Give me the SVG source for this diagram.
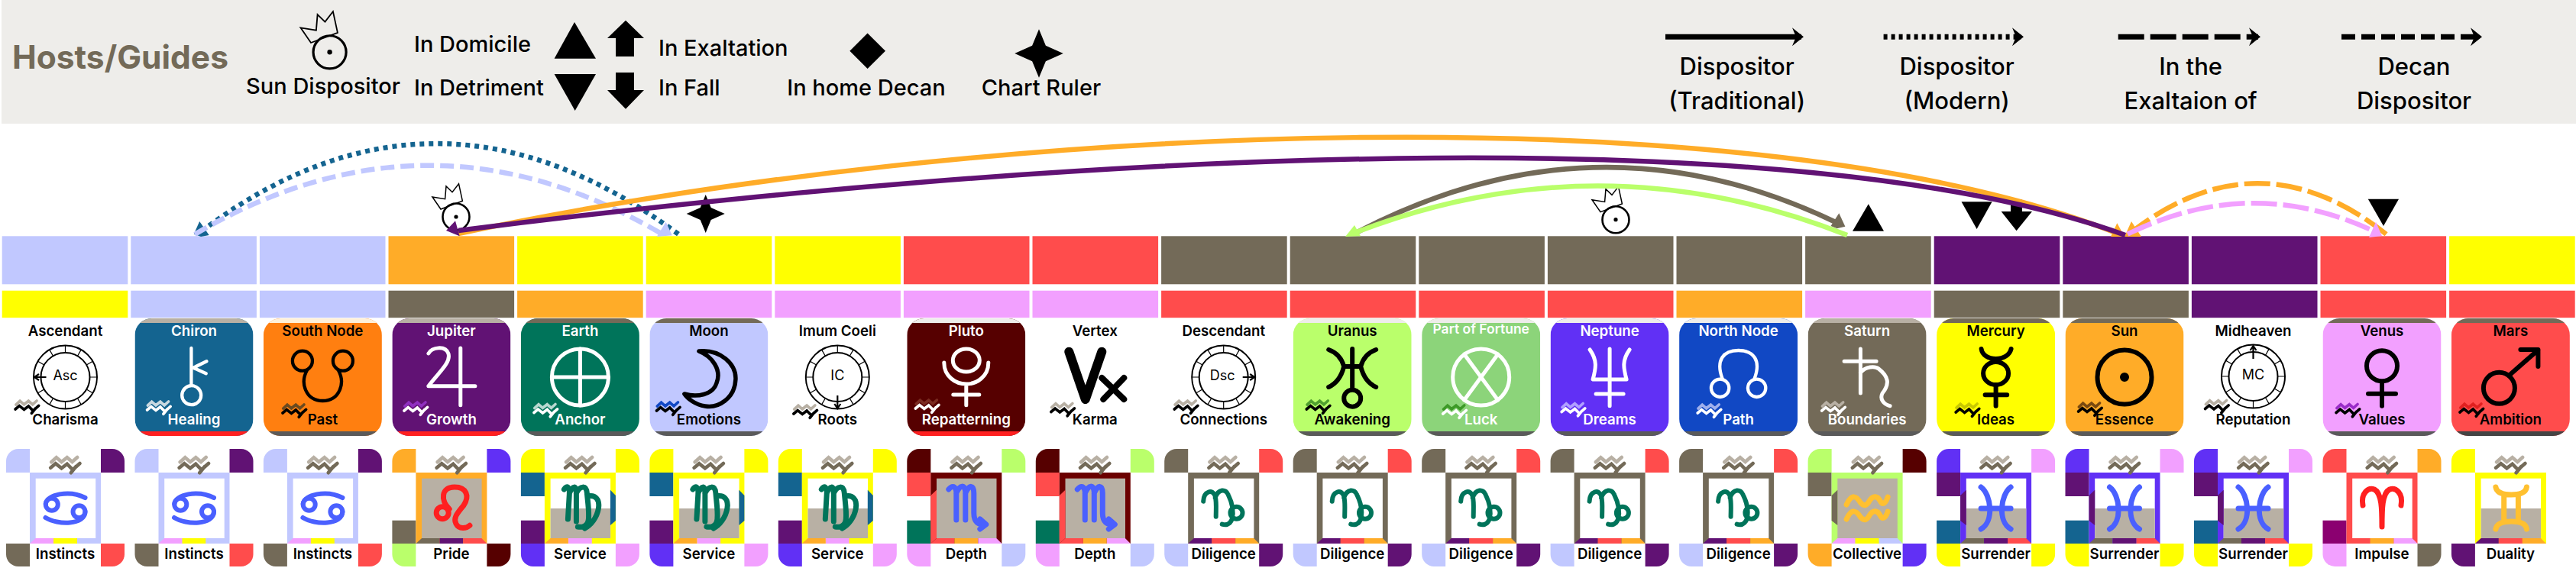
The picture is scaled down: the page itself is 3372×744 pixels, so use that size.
<svg xmlns="http://www.w3.org/2000/svg" width="3372" height="744" viewBox="0 0 3372 744">
<style>
text{font-family:Inter,"Noto Sans","Liberation Sans",sans-serif;font-weight:600;font-size:18.7px;text-anchor:middle;fill:#000}
.w{fill:#fff}
.lg{font-size:29px;font-weight:500}
.lg2{font-size:31px;font-weight:500}
.sm{font-size:18px;font-weight:400}
.l{text-anchor:start}
.peri{fill:#C1C8FF}.org{fill:#FFAC28}.yel{fill:#FFFF00}.red{fill:#FF4C4C}.tau{fill:#736A58}.pur{fill:#611274}.vio{fill:#6130F5}.pnk{fill:#F2A0FF}.lim{fill:#BAFF6B}.mar{fill:#560000}.mar2{fill:#6B0000}.tea{fill:#00745A}.blu{fill:#146490}.cob{fill:#1148C4}.sor{fill:#FF7F10}.grn{fill:#8CD47A}.gry{fill:#B8B0A4}.lgt{fill:#EEEDEA}.dgy{fill:#5A5A5A}.red2{fill:#FF2020}.mag{fill:#8B0070}.wht{fill:#fff}
.gl{fill:none;stroke-width:5;stroke-linecap:round;stroke-linejoin:round}
.gs{fill:none;stroke-width:7;stroke-linecap:round;stroke-linejoin:round}
.wv{fill:none;stroke-width:4.6;stroke-linecap:round;stroke-linejoin:miter}
.arc{fill:none;stroke-width:6.5}
.d18{stroke-dasharray:18 8}.d34{stroke-dasharray:34 8}.d6{stroke-dasharray:6 6}
</style>
<defs>
<clipPath id="cc"><rect x="0" y="0" width="155" height="154" rx="22"/></clipPath>
<marker id="mk" markerUnits="userSpaceOnUse" markerWidth="18" markerHeight="26" refX="12" refY="12" orient="auto"><path d="M0,0 L15,12 L0,24 L5,12Z" fill="#000"/></marker>
<g id="sunIcon"><circle r="17.5" fill="none" stroke="#000" stroke-width="2.6"/><circle r="2.6" fill="#000"/><path d="M-31,-26 L-14.4,-23.3 L-13,-40 L-5,-32.3 L3.5,-43.3 L8.4,-20.7 L-20,-10Z" fill="none" stroke="#000" stroke-width="1.5"/></g>
<path id="star" d="M0,-25 L7,-8 L25,0 L7,8 L0,25 L-7,8 L-25,0 L-7,-8Z"/>
<path id="wu" class="wv" d="M-18.3,-3.7 L-11.7,-9.7 L-5,-4 L2.3,-9.7 L9,-4 L15.7,-10"/>
<path id="wl" class="wv" d="M-19.3,3.7 L-12.7,-1.7 L-5,4.3 L2.3,-1.3 L9.7,6.3 L19,-2 M14,2 L7.3,10.3"/>
<path id="tl" d="M0,31V16A16,16 0 0 1 16,0H31V31Z"/>
<path id="tr" d="M124,0H139A16,16 0 0 1 155,16V31H124Z"/>
<path id="bl" d="M0,124H31V154H16A16,16 0 0 1 0,138Z"/>
<path id="br" d="M124,124H155V138A16,16 0 0 1 139,154H124Z"/>
<rect id="l1" x="0" y="31" width="31" height="31"/>
<rect id="l3" x="0" y="93.7" width="31" height="30.3"/>
<rect id="fr" x="31" y="31" width="93" height="93"/>
<rect id="inw" x="38.7" y="38.7" width="78.5" height="78.3" fill="#fff"/>
<rect id="ing" x="38.7" y="38.7" width="78.5" height="78.3" fill="#B8B0A4"/>
<rect id="inh" x="38.7" y="78" width="78.5" height="39" fill="#B8B0A4"/>
<path id="b1" d="M31,124H62V117H38.7Z"/>
<path id="b2" d="M62,124H93V117H62Z"/>
<path id="b3" d="M93,124H124L117,117H93Z"/>
<path id="lm" d="M31,61L38.7,53.7V100L31,94Z"/>
<path id="rm" d="M124,61L117,53.7V100L124,94Z"/>
<g id="zw"><use href="#wu" stroke="#B8B0A4" x="77.5" y="21"/><use href="#wl" stroke="#736A58" x="77.5" y="21"/></g>
<!-- planet glyphs -->
<g id="g-wheel"><circle cy="77" r="41.5" fill="none" stroke="#000" stroke-width="2"/><circle cy="77" r="32" fill="none" stroke="#000" stroke-width="2"/><path d="M0,35.5V45M20.7,41.1L16,49.3M35.9,56.2L27.7,61M41.5,77H32M35.9,97.8L27.7,93M20.7,112.9L16,104.7M0,118.5V109M-20.7,112.9L-16,104.7M-35.9,97.8L-27.7,93M-41.5,77H-32M-35.9,56.2L-27.7,61M-20.7,41.1L-16,49.3" stroke="#000" stroke-width="1.2" fill="none"/></g>
<g id="g-chiron" class="gl" style="stroke-width:4.3"><path d="M-3.6,39V87M16.4,56.3L-.9,64.7L15.7,72.3"/><circle cx="-3.3" cy="100.7" r="12.5"/></g>
<g id="g-snode" class="gl" style="stroke-width:4.3"><circle cx="-26.5" cy="55.7" r="13"/><circle cx="26.5" cy="55.7" r="13"/><path d="M-20.5,68C-30,85 -22,108 0,108C22,108 30,85 20.5,68"/></g>
<g id="g-jupiter" class="gl"><path d="M11.9,39V113.7M-30,88.7H31M-30,46C-26,38 -8,35 -4,46C0,58 -18,72 -30,88.7"/></g>
<g id="g-earth" class="gl"><circle cy="77" r="37"/><path d="M0,40V114M-37,77H37"/></g>
<path id="g-moon" class="gl" d="M-13,43C15,40 36,60 35,80C34,105 12,118 -5,115C-18,113 -28,105 -32,99C-15,104 5,100 10,85C17,68 5,50 -13,43Z" style="stroke-width:5.5"/>
<g id="g-pluto" class="gl"><ellipse cy="55" rx="17.5" ry="15"/><path d="M-29,58C-29,76 -14,86 0,86C14,86 29,76 29,58M0,86V113.7M-17,100H17"/></g>
<g id="g-vertex" class="gl"><path d="M-34,43.7L-12.5,106L9,43.7" style="stroke-width:12"/><path d="M9,78L38,106M38,78L11,106" style="stroke-width:8"/></g>
<g id="g-uranus" class="gl" style="stroke-width:6"><path d="M0,40V92M-31,41C-20,45 -14,52 -11,63C-14,75 -20,85 -31,90M31,41C20,45 14,52 11,63C14,75 20,85 31,90M-11,63H11"/><circle cy="104.7" r="11"/></g>
<g id="g-luck" class="gl"><circle cy="77" r="37"/><path d="M-22,47L22,107M22,47L-22,107"/></g>
<g id="g-neptune" class="gl"><path d="M0,40V114.7M-18,99H18M-26,41C-16,55 -18,65 -22,80H22C18,65 16,55 26,41"/></g>
<g id="g-nnode" class="gl" style="stroke-width:4.3"><circle cx="-24" cy="91.3" r="11.7"/><circle cx="24" cy="91.3" r="11.7"/><path d="M-21,79C-30,55 -20,42 0,42C20,42 30,55 21,79"/></g>
<g id="g-saturn" class="gl"><path d="M-8.7,40V98M-30,56.3H12M-8.7,71C-2,63 10,62 15,66C28,76 30,86 20,98C16,106 22,113 30,114.7"/></g>
<g id="g-mercury" class="gl" style="stroke-width:6"><path d="M-19,40C-18,48 -10,53 0,53C10,53 18,48 20,40M0,88V114.7M-14,100.3H14.6"/><ellipse cy="72" rx="16.5" ry="15"/></g>
<g id="g-sun" class="gl" style="stroke-width:6"><circle cy="77" r="35.5"/><circle cy="77" r="3" fill="currentColor" style="fill:#000"/></g>
<g id="g-venus" class="gl" style="stroke-width:6"><circle cy="62.3" r="20"/><path d="M0,84V114.7M-18,98.7H18"/></g>
<g id="g-mars" class="gl" style="stroke-width:6"><circle cx="-15" cy="91.3" r="20.5"/><path d="M0,73L36,41.5M13,41H36V63"/></g>
<!-- sign glyphs -->
<g id="s-cancer" class="gs" style="stroke-width:6"><circle cx="-17.7" cy="72.7" r="8"/><circle cx="18" cy="82.3" r="8"/><path d="M-25.7,72C-25,60 5,53 26,64M-26,90C-10,100 26,100 26,82"/></g>
<g id="s-leo" class="gs"><circle cx="-11.7" cy="83.7" r="8"/><path d="M-2.7,78.7C-14,68 -14,50 4,50C20,50 24,62 16,74C8,84 2,90 6,98C10,106 20,104 24,100.3"/></g>
<g id="s-virgo" class="gs"><path d="M-21,53C-17,47 -14,50 -14,58L-16,92M-14,58C-10,48 -5,47 -5,58V95M-5,58C0,48 8,47 9,58C10,70 12,82 11,92C10,102 2,103 -3,102M10,62C20,60 26,66 24,78C22,90 14,100 6,104"/></g>
<g id="s-scorpio" class="gs"><path d="M-23,53C-18,47 -14,49 -13,56V93M-13,58C-8,46 -2,47 -1,56V93M-1,58C4,46 10,47 10,58V84C10,96 16,100 25,99M18,92L26,99L18,105"/></g>
<g id="s-capr" class="gs" style="stroke-width:6"><path d="M-26.5,68.7C-26,55 -14,52 -11,62C-9,70 -10,80 -10,88.7M-11,64C-7,52 3,52 6,60C10,68 14,80 11,92C8,100 2,100 -2,98.7"/><circle cx="16.8" cy="83.7" r="8"/></g>
<g id="s-aqua" class="gs"><path d="M-27,73C-20,58 -14,62 -9,70C-4,76 0,74 3,68C8,60 14,62 17,68C20,74 24,72 27,63M-27,92C-20,77 -14,81 -9,89C-4,95 0,93 3,87C8,79 14,81 17,87C20,93 24,91 27,82"/></g>
<g id="s-pisces" class="gs"><path d="M-19.5,50C-6,60 -2,95 -19.5,105M19.5,50C6,60 2,95 19.5,105M-19.5,78H19.5"/></g>
<g id="s-aries" class="gs"><path d="M-25,74C-28,58 -18,50 -10,53C0,58 0,80 0,102C0,80 0,58 10,53C18,50 28,58 25,74"/></g>
<g id="s-gemini" class="gs"><path d="M-19.5,50C-18,58 -10,60 1,60C12,60 20,58 21,50M-19.5,105C-18,97 -10,95 1,95C12,95 20,97 21,105M-8.7,60V95M10,60V95"/></g>
<!-- lower blocks -->
<g id="low-cancer"><use href="#tl" class="peri"/><use href="#tr" class="pur"/><use href="#bl" class="tau"/><use href="#br" class="red"/><use href="#fr" class="peri"/><use href="#inw"/><use href="#b1" class="pnk"/><use href="#b2" class="yel"/><use href="#b3" class="peri"/><use href="#zw"/><use href="#s-cancer" x="77.5" stroke="#4A60FF"/></g>
<g id="low-leo"><use href="#tl" class="org"/><use href="#tr" class="vio"/><use href="#bl" class="lim"/><use href="#br" class="mar"/><use href="#l3" class="tau"/><use href="#fr" class="org"/><use href="#ing"/><use href="#b1" class="tau"/><use href="#b2" class="pur"/><use href="#b3" class="red"/><use href="#zw"/><use href="#s-leo" x="77.5" stroke="#FF2020"/></g>
<g id="low-virgo"><use href="#tl" class="yel"/><use href="#tr" class="yel"/><use href="#bl" class="vio"/><use href="#br" class="pnk"/><use href="#l1" class="blu"/><use href="#l3" class="pur"/><use href="#fr" class="yel"/><use href="#inw"/><use href="#inh"/><use href="#rm" class="blu"/><use href="#b1" class="org"/><use href="#b2" class="pnk"/><use href="#b3" class="yel"/><use href="#zw"/><use href="#s-virgo" x="77.5" stroke="#00745A"/></g>
<g id="low-scorpio"><use href="#tl" class="mar"/><use href="#tr" class="lim"/><use href="#bl" class="pnk"/><use href="#br" class="peri"/><use href="#l1" class="red"/><use href="#l3" class="tea"/><use href="#fr" class="mar2"/><use href="#ing"/><path d="M31,61L38.7,53.7V117L31,124Z" class="red"/><use href="#b1" class="red"/><use href="#b2" class="org"/><use href="#b3" class="pnk"/><use href="#zw"/><use href="#s-scorpio" x="77.5" stroke="#4A60FF"/></g>
<g id="low-capr"><use href="#tl" class="tau"/><use href="#tr" class="red"/><use href="#bl" class="peri"/><use href="#br" class="pur"/><use href="#fr" class="tau"/><use href="#inw"/><use href="#b1" class="pur"/><use href="#b2" class="red"/><use href="#b3" class="org"/><use href="#zw"/><use href="#s-capr" x="77.5" stroke="#00745A"/></g>
<g id="low-aqua"><use href="#tl" class="lim"/><use href="#tr" class="mar"/><use href="#bl" class="org"/><use href="#br" class="vio"/><use href="#l1" class="tau"/><use href="#fr" class="lim"/><use href="#ing"/><use href="#lm" class="tau"/><use href="#b1" class="pnk"/><use href="#b2" class="yel"/><use href="#b3" class="peri"/><use href="#zw"/><use href="#s-aqua" x="77.5" stroke="#FFC030"/></g>
<g id="low-pisces"><use href="#tl" class="vio"/><use href="#tr" class="pnk"/><use href="#bl" class="yel"/><use href="#br" class="yel"/><use href="#l1" class="pur"/><use href="#l3" class="blu"/><use href="#fr" class="vio"/><use href="#inw"/><use href="#inh"/><use href="#lm" class="pur"/><use href="#b1" class="tau"/><use href="#b2" class="pur"/><use href="#b3" class="red"/><use href="#zw"/><use href="#s-pisces" x="77.5" stroke="#4A60FF"/></g>
<g id="low-aries"><use href="#tl" class="red"/><use href="#tr" class="org"/><use href="#bl" class="pnk"/><use href="#br" class="tau"/><use href="#l3" class="mag"/><use href="#fr" class="red"/><use href="#inw"/><use href="#b1" class="red"/><use href="#b2" class="org"/><use href="#b3" class="pnk"/><use href="#zw"/><use href="#s-aries" x="77.5" stroke="#FF2020"/></g>
<g id="low-gemini"><use href="#tl" class="yel"/><use href="#bl" class="pur"/><use href="#fr" class="yel"/><use href="#inw"/><use href="#inh"/><use href="#b1" class="pur"/><use href="#b2" class="red"/><use href="#b3" class="org"/><use href="#zw"/><use href="#s-gemini" x="77.5" stroke="#FFC030"/></g>
</defs>

<g id="legend">
<rect x="2" y="0" width="3370" height="162" class="lgt"/>
<text x="16" y="90" class="l" style="font-size:42.5px;font-weight:700;fill:#736A58">Hosts/Guides</text>
<use href="#sunIcon" transform="translate(431.6,68.3) scale(1.23)"/>
<text x="423" y="122.7" class="lg">Sun Dispositor</text>
<text x="542" y="68" class="lg l">In Domicile</text>
<text x="542" y="125" class="lg l">In Detriment</text>
<path d="M752,29L780,76.7H725.6Z"/>
<path d="M725.6,97H780L752.7,145Z"/>
<path d="M819,26.7L843,50H830V74H806V50H795Z"/>
<path d="M806,95H830V118H843L819,142.7L795,118H806Z"/>
<text x="862" y="72.7" class="lg l">In Exaltation</text>
<text x="862" y="125" class="lg l">In Fall</text>
<path d="M1135.6,43.4L1159,66.7L1135.6,90L1112.3,66.7Z"/>
<text x="1134" y="125" class="lg">In home Decan</text>
<use href="#star" transform="translate(1360,70) scale(1.27)"/>
<text x="1363" y="125" class="lg">Chart Ruler</text>
<path d="M2180,48.3H2358" stroke="#000" stroke-width="7" marker-end="url(#mk)"/>
<path d="M2465.6,48.3H2646" stroke="#000" stroke-width="7" stroke-dasharray="5 5" marker-end="url(#mk)"/>
<path d="M2772.7,48.3H2956" stroke="#000" stroke-width="7" stroke-dasharray="34 8" marker-end="url(#mk)"/>
<path d="M3065,48.3H3246" stroke="#000" stroke-width="7" stroke-dasharray="18 8" marker-end="url(#mk)"/>
<text x="2273.7" y="98.3" class="lg2">Dispositor</text><text x="2273.7" y="143" class="lg2">(Traditional)</text>
<text x="2561.6" y="98.3" class="lg2">Dispositor</text><text x="2561.6" y="143" class="lg2">(Modern)</text>
<text x="2867.6" y="98.3" class="lg2">In the</text><text x="2867.6" y="143" class="lg2">Exaltaion of</text>
<text x="3160" y="98.3" class="lg2">Decan</text><text x="3160" y="143" class="lg2">Dispositor</text>
</g>

<g id="node-ascendant">
<rect x="2.7" y="309.3" width="164.6" height="63" class="peri"/><rect x="2.7" y="380.7" width="164.6" height="35.5" class="yel"/>
<g transform="translate(8,417)"><use href="#g-wheel" x="77.5"/><text x="77.5" y="81.3" class="sm">Asc</text><path d="M52.5,77H38M43,73L37,77L43,81" fill="none" stroke="#000" stroke-width="2.2"/>
<g transform="translate(27.5,116) scale(.8)"><use href="#wu" stroke="#B8B0A4"/><use href="#wl" stroke="#000"/></g>
<text x="77.5" y="23">Ascendant</text><text x="77.5" y="138.5">Charisma</text></g>
<g transform="translate(8,588)"><use href="#low-cancer"/><text x="77.5" y="143.7">Instincts</text></g>
</g>

<g id="node-chiron">
<rect x="171.3" y="309.3" width="164.6" height="63" class="peri"/><rect x="171.3" y="380.7" width="164.6" height="35.5" class="peri"/>
<g transform="translate(176.5,417)"><g clip-path="url(#cc)"><rect width="155" height="154" class="blu"/><rect width="155" height="6" class="gry"/><rect y="148" width="155" height="6" class="red2"/></g><use href="#g-chiron" x="77.5" stroke="#fff"/>
<g transform="translate(31.5,117) scale(.8)"><use href="#wu" stroke="#C8D8E0"/><use href="#wl" stroke="#fff"/></g>
<text x="77.5" y="23" class="w">Chiron</text><text x="77.5" y="138.5" class="w">Healing</text></g>
<g transform="translate(176.5,588)"><use href="#low-cancer"/><text x="77.5" y="143.7">Instincts</text></g>
</g>

<g id="node-south-node">
<rect x="339.9" y="309.3" width="164.6" height="63" class="peri"/><rect x="339.9" y="380.7" width="164.6" height="35.5" class="peri"/>
<g transform="translate(344.9,417)"><g clip-path="url(#cc)"><rect width="155" height="154" class="sor"/><rect width="155" height="6" fill="#FFF0D8"/><rect y="148" width="155" height="6" class="dgy"/></g><use href="#g-snode" x="77.5" stroke="#000"/>
<g transform="translate(40.5,121) scale(.8)"><use href="#wu" stroke="#6A4A20"/><use href="#wl" stroke="#000"/></g>
<text x="77.5" y="23">South Node</text><text x="77.5" y="138.5">Past</text></g>
<g transform="translate(344.9,588)"><use href="#low-cancer"/><text x="77.5" y="143.7">Instincts</text></g>
</g>

<g id="node-jupiter">
<rect x="508.5" y="309.3" width="164.6" height="63" class="org"/><rect x="508.5" y="380.7" width="164.6" height="35.5" class="tau"/>
<use href="#sunIcon" x="597" y="284"/>
<g transform="translate(513.4,417)"><g clip-path="url(#cc)"><rect width="155" height="154" class="pur"/><rect width="155" height="6" class="gry"/><rect y="148" width="155" height="6" class="red2"/></g><use href="#g-jupiter" x="77.5" stroke="#fff"/>
<g transform="translate(31,118) scale(.8)"><use href="#wu" stroke="#9030C0"/><use href="#wl" stroke="#fff"/></g>
<text x="77.5" y="23" class="w">Jupiter</text><text x="77.5" y="138.5" class="w">Growth</text></g>
<g transform="translate(513.4,588)"><use href="#low-leo"/><text x="77.5" y="143.7">Pride</text></g>
</g>

<g id="node-earth">
<rect x="677.1" y="309.3" width="164.6" height="63" class="yel"/><rect x="677.1" y="380.7" width="164.6" height="35.5" class="org"/>
<g transform="translate(681.9,417)"><g clip-path="url(#cc)"><rect width="155" height="154" class="tea"/><rect width="155" height="6" class="tau"/><rect y="148" width="155" height="6" class="dgy"/></g><use href="#g-earth" x="77.5" stroke="#fff"/>
<g transform="translate(32.5,120.5) scale(.8)"><use href="#wu" stroke="#B8D8D0"/><use href="#wl" stroke="#fff"/></g>
<text x="77.5" y="23" class="w">Earth</text><text x="77.5" y="138.5" class="w">Anchor</text></g>
<g transform="translate(681.9,588)"><use href="#low-virgo"/><text x="77.5" y="143.7">Service</text></g>
</g>

<g id="node-moon">
<rect x="845.7" y="309.3" width="164.6" height="63" class="yel"/><rect x="845.7" y="380.7" width="164.6" height="35.5" class="pnk"/>
<use href="#star" x="923.7" y="280"/>
<g transform="translate(850.4,417)"><g clip-path="url(#cc)"><rect width="155" height="154" class="peri"/><rect width="155" height="6" class="tau"/><rect y="148" width="155" height="6" class="dgy"/></g><use href="#g-moon" x="77.5" stroke="#000"/>
<g transform="translate(24.5,118) scale(.8)"><use href="#wu" stroke="#1148C4"/><use href="#wl" stroke="#000"/></g>
<text x="77.5" y="23">Moon</text><text x="77.5" y="138.5">Emotions</text></g>
<g transform="translate(850.4,588)"><use href="#low-virgo"/><text x="77.5" y="143.7">Service</text></g>
</g>

<g id="node-imum-coeli">
<rect x="1014.3" y="309.3" width="164.6" height="63" class="yel"/><rect x="1014.3" y="380.7" width="164.6" height="35.5" class="pnk"/>
<g transform="translate(1018.8,417)"><use href="#g-wheel" x="77.5"/><text x="77.5" y="81.3" class="sm">IC</text><path d="M77.5,101V117M73.5,112L77.5,118L81.5,112" fill="none" stroke="#000" stroke-width="2.2"/>
<g transform="translate(35.5,122) scale(.8)"><use href="#wu" stroke="#B8B0A4"/><use href="#wl" stroke="#000"/></g>
<text x="77.5" y="23">Imum Coeli</text><text x="77.5" y="138.5">Roots</text></g>
<g transform="translate(1018.8,588)"><use href="#low-virgo"/><text x="77.5" y="143.7">Service</text></g>
</g>

<g id="node-pluto">
<rect x="1182.9" y="309.3" width="164.6" height="63" class="red"/><rect x="1182.9" y="380.7" width="164.6" height="35.5" class="pnk"/>
<g transform="translate(1187.3,417)"><g clip-path="url(#cc)"><rect width="155" height="154" class="mar"/><rect width="155" height="6" class="lgt"/><rect y="148" width="155" height="6" class="red2"/></g><use href="#g-pluto" x="77.5" stroke="#fff"/>
<g transform="translate(26.5,115) scale(.8)"><use href="#wu" stroke="#7A2A20"/><use href="#wl" stroke="#fff"/></g>
<text x="77.5" y="23" class="w">Pluto</text><text x="77.5" y="138.5" class="w">Repatterning</text></g>
<g transform="translate(1187.3,588)"><use href="#low-scorpio"/><text x="77.5" y="143.7">Depth</text></g>
</g>

<g id="node-vertex">
<rect x="1351.5" y="309.3" width="164.6" height="63" class="red"/><rect x="1351.5" y="380.7" width="164.6" height="35.5" class="pnk"/>
<g transform="translate(1355.8,417)"><use href="#g-vertex" x="77.5" stroke="#000"/>
<g transform="translate(35.5,119.5) scale(.8)"><use href="#wu" stroke="#B8B0A4"/><use href="#wl" stroke="#000"/></g>
<text x="77.5" y="23">Vertex</text><text x="77.5" y="138.5">Karma</text></g>
<g transform="translate(1355.8,588)"><use href="#low-scorpio"/><text x="77.5" y="143.7">Depth</text></g>
</g>

<g id="node-descendant">
<rect x="1520.1" y="309.3" width="164.6" height="63" class="tau"/><rect x="1520.1" y="380.7" width="164.6" height="35.5" class="red"/>
<g transform="translate(1524.2,417)"><use href="#g-wheel" x="77.5"/><text x="76" y="81.3" class="sm">Dsc</text><path d="M102.5,77H117M112,73L118,77L112,81" fill="none" stroke="#000" stroke-width="2.2"/>
<g transform="translate(28.5,116) scale(.8)"><use href="#wu" stroke="#B8B0A4"/><use href="#wl" stroke="#000"/></g>
<text x="77.5" y="23">Descendant</text><text x="77.5" y="138.5">Connections</text></g>
<g transform="translate(1524.2,588)"><use href="#low-capr"/><text x="77.5" y="143.7">Diligence</text></g>
</g>

<g id="node-uranus">
<rect x="1688.7" y="309.3" width="164.6" height="63" class="tau"/><rect x="1688.7" y="380.7" width="164.6" height="35.5" class="red"/>
<g transform="translate(1692.7,417)"><g clip-path="url(#cc)"><rect width="155" height="154" class="lim"/><rect width="155" height="6" class="lgt"/><rect y="148" width="155" height="6" class="dgy"/></g><use href="#g-uranus" x="77.5" stroke="#000"/>
<g transform="translate(33,116) scale(.8)"><use href="#wu" stroke="#50A030"/><use href="#wl" stroke="#000"/></g>
<text x="77.5" y="23">Uranus</text><text x="77.5" y="138.5">Awakening</text></g>
<g transform="translate(1692.7,588)"><use href="#low-capr"/><text x="77.5" y="143.7">Diligence</text></g>
</g>

<g id="node-part-of-fortune">
<rect x="1857.3" y="309.3" width="164.6" height="63" class="tau"/><rect x="1857.3" y="380.7" width="164.6" height="35.5" class="red"/>
<g transform="translate(1861.2,417)"><g clip-path="url(#cc)"><rect width="155" height="154" class="grn"/><rect width="155" height="6" class="lgt"/><rect y="148" width="155" height="6" class="dgy"/></g><use href="#g-luck" x="77.5" stroke="#fff"/>
<g transform="translate(43,122) scale(.8)"><use href="#wu" stroke="#3D9A28"/><use href="#wl" stroke="#fff"/></g>
<text x="77.5" y="20" class="w" style="font-size:17.5px">Part of Fortune</text><text x="77.5" y="138.5" class="w">Luck</text></g>
<g transform="translate(1861.2,588)"><use href="#low-capr"/><text x="77.5" y="143.7">Diligence</text></g>
</g>

<g id="node-neptune">
<rect x="2025.9" y="309.3" width="164.6" height="63" class="tau"/><rect x="2025.9" y="380.7" width="164.6" height="35.5" class="red"/>
<use href="#sunIcon" x="2115" y="287.7"/>
<g transform="translate(2029.6,417)"><g clip-path="url(#cc)"><rect width="155" height="154" class="vio"/><rect width="155" height="6" class="lgt"/><rect y="148" width="155" height="6" class="dgy"/></g><use href="#g-neptune" x="77.5" stroke="#fff"/>
<g transform="translate(30,119.5) scale(.8)"><use href="#wu" stroke="#B0A0FF"/><use href="#wl" stroke="#fff"/></g>
<text x="77.5" y="23" class="w">Neptune</text><text x="77.5" y="138.5" class="w">Dreams</text></g>
<g transform="translate(2029.6,588)"><use href="#low-capr"/><text x="77.5" y="143.7">Diligence</text></g>
</g>

<g id="node-north-node">
<rect x="2194.5" y="309.3" width="164.6" height="63" class="tau"/><rect x="2194.5" y="380.7" width="164.6" height="35.5" class="org"/>
<g transform="translate(2198.1,417)"><g clip-path="url(#cc)"><rect width="155" height="154" class="cob"/><rect width="155" height="6" class="lgt"/><rect y="148" width="155" height="6" class="dgy"/></g><use href="#g-nnode" x="77.5" stroke="#fff"/>
<g transform="translate(39.5,121) scale(.8)"><use href="#wu" stroke="#A0B0EC"/><use href="#wl" stroke="#fff"/></g>
<text x="77.5" y="23" class="w">North Node</text><text x="77.5" y="138.5" class="w">Path</text></g>
<g transform="translate(2198.1,588)"><use href="#low-capr"/><text x="77.5" y="143.7">Diligence</text></g>
</g>

<g id="node-saturn">
<rect x="2363.1" y="309.3" width="164.6" height="63" class="tau"/><rect x="2363.1" y="380.7" width="164.6" height="35.5" class="pnk"/>
<path d="M2445.8,267.3L2466,302.7H2425Z"/>
<g transform="translate(2366.6,417)"><g clip-path="url(#cc)"><rect width="155" height="154" class="tau"/><rect width="155" height="6" class="gry"/><rect y="148" width="155" height="6" class="dgy"/></g><use href="#g-saturn" x="77.5" stroke="#fff"/>
<g transform="translate(33.5,118) scale(.8)"><use href="#wu" stroke="#B8B0A4"/><use href="#wl" stroke="#fff"/></g>
<text x="77.5" y="23" class="w">Saturn</text><text x="77.5" y="138.5" class="w">Boundaries</text></g>
<g transform="translate(2366.6,588)"><use href="#low-aqua"/><text x="77.5" y="143.7">Collective</text></g>
</g>

<g id="node-mercury">
<rect x="2531.7" y="309.3" width="164.6" height="63" class="pur"/><rect x="2531.7" y="380.7" width="164.6" height="35.5" class="tau"/>
<path d="M2567.5,264.3H2607.6L2587.6,300Z"/>
<path d="M2632,261.7H2647V277H2660L2639.6,302.3L2619.6,277H2632Z"/>
<g transform="translate(2535.1,417)"><g clip-path="url(#cc)"><rect width="155" height="154" class="yel"/><rect width="155" height="6" class="tau"/><rect y="148" width="155" height="6" class="dgy"/></g><use href="#g-mercury" x="77.5" stroke="#000"/>
<g transform="translate(40.5,120) scale(.8)"><use href="#wu" stroke="#C8C800"/><use href="#wl" stroke="#000"/></g>
<text x="77.5" y="23">Mercury</text><text x="77.5" y="138.5">Ideas</text></g>
<g transform="translate(2535.1,588)"><use href="#low-pisces"/><text x="77.5" y="143.7">Surrender</text></g>
</g>

<g id="node-sun">
<rect x="2700.3" y="309.3" width="164.6" height="63" class="pur"/><rect x="2700.3" y="380.7" width="164.6" height="35.5" class="tau"/>
<g transform="translate(2703.5,417)"><g clip-path="url(#cc)"><rect width="155" height="154" class="org"/><rect width="155" height="6" class="tau"/><rect y="148" width="155" height="6" class="dgy"/></g><use href="#g-sun" x="77.5" stroke="#000"/>
<g transform="translate(32.5,119) scale(.8)"><use href="#wu" stroke="#7A4A10"/><use href="#wl" stroke="#000"/></g>
<text x="77.5" y="23">Sun</text><text x="77.5" y="138.5">Essence</text></g>
<g transform="translate(2703.5,588)"><use href="#low-pisces"/><text x="77.5" y="143.7">Surrender</text></g>
</g>

<g id="node-midheaven">
<rect x="2868.9" y="309.3" width="164.6" height="63" class="pur"/><rect x="2868.9" y="380.7" width="164.6" height="35.5" class="pur"/>
<g transform="translate(2872,417)"><use href="#g-wheel" x="77.5" y="-1"/><text x="77.5" y="80" class="sm">MC</text><path d="M77.5,53V37M73.5,42L77.5,36L81.5,42" fill="none" stroke="#000" stroke-width="2.2"/>
<g transform="translate(30,115.5) scale(.8)"><use href="#wu" stroke="#B8B0A4"/><use href="#wl" stroke="#000"/></g>
<text x="77.5" y="23">Midheaven</text><text x="77.5" y="138.5">Reputation</text></g>
<g transform="translate(2872,588)"><use href="#low-pisces"/><text x="77.5" y="143.7">Surrender</text></g>
</g>

<g id="node-venus">
<rect x="3037.5" y="309.3" width="164.6" height="63" class="red"/><rect x="3037.5" y="380.7" width="164.6" height="35.5" class="red"/>
<path d="M3099.8,260.7H3140L3120,296Z"/>
<g transform="translate(3040.5,417)"><g clip-path="url(#cc)"><rect width="155" height="154" class="pnk"/><rect width="155" height="6" class="tau"/><rect y="148" width="155" height="6" class="dgy"/></g><use href="#g-venus" x="77.5" stroke="#000"/>
<g transform="translate(33,120.5) scale(.8)"><use href="#wu" stroke="#9A2CC8"/><use href="#wl" stroke="#000"/></g>
<text x="77.5" y="23">Venus</text><text x="77.5" y="138.5">Values</text></g>
<g transform="translate(3040.5,588)"><use href="#low-aries"/><text x="77.5" y="143.7">Impulse</text></g>
</g>

<g id="node-mars">
<rect x="3206.1" y="309.3" width="164.6" height="63" class="yel"/><rect x="3206.1" y="380.7" width="164.6" height="35.5" class="red"/>
<g transform="translate(3208.9,417)"><g clip-path="url(#cc)"><rect width="155" height="154" class="red"/><rect width="155" height="6" class="tau"/><rect y="148" width="155" height="6" fill="#444"/></g><use href="#g-mars" x="77.5" stroke="#000"/>
<g transform="translate(26.5,120) scale(.8)"><use href="#wu" stroke="#E02020"/><use href="#wl" stroke="#000"/></g>
<text x="77.5" y="23">Mars</text><text x="77.5" y="138.5">Ambition</text></g>
<g transform="translate(3208.9,588)"><use href="#low-gemini"/><text x="77.5" y="143.7">Duality</text></g>
</g>

<g id="connectors">
<path d="M888,306.7Q575.5,75 273,296" class="arc d6" stroke="#146490"/>
<path d="M261.2,290L273.7,308L263,310L253.7,306.7Z" class="blu"/>
<path d="M255,307Q562,126 869,308" class="arc d18" stroke="#C1C8FF"/>
<path d="M871.7,290.7L879.8,308.3L859.8,310Z" class="peri"/>
<path d="M600,306C1300,158 2300,118 2775,307" class="arc" stroke="#FFAC28"/>
<path d="M2771.3,292.3L2781,310H2763Z" class="org"/>
<path d="M2790,290L2803,310H2781Z" class="org"/>
<path d="M2782,308C2350,150 1400,200 600,302" class="arc" stroke="#611274"/>
<path d="M596,289.3L601.6,309.3L584,302Z" class="pur"/>
<path d="M1775,305Q2090,140 2405,292" class="arc" stroke="#736A58"/>
<path d="M2407.3,279.3L2415.4,296.7L2404.6,299.3L2396.5,296Z" class="tau"/>
<path d="M2418,308Q2094,180 1770.5,306" class="arc" stroke="#BAFF6B"/>
<path d="M1773,295L1781,309.3L1761,310Z" class="lim"/>
<path d="M3123.6,306.7Q2957,175 2790,304" class="arc d34" stroke="#FFAC28"/>
<path d="M2785,306.7Q2947.5,227 3110,304" class="arc d34" stroke="#F2A0FF"/>
<path d="M3110,290.7L3118,309L3101,311Z" class="pnk"/>
</g>
</svg>
